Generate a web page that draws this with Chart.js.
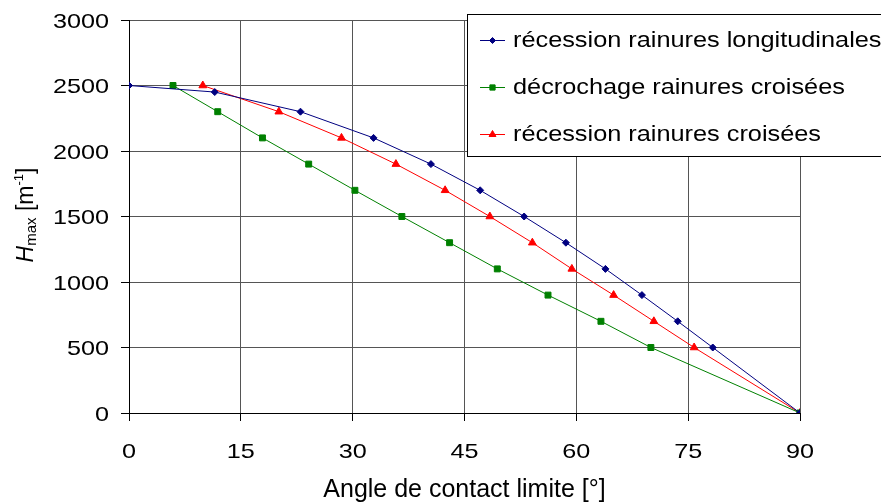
<!DOCTYPE html>
<html lang="fr">
<head>
<meta charset="UTF-8">
<title>Hmax vs angle de contact limite</title>
<script src="https://cdn.jsdelivr.net/npm/chart.js@4"></script>
<style>
    body { margin: 0; background: #fff; }
    #wrap { width: 881px; height: 504px; }
</style>
</head>
<body>
<div id="wrap"><canvas id="chart" width="881" height="504"></canvas></div>
<script>
    // values
    const seriesNames = [
        'récession rainures longitudinales',
        'décrochage rainures croisées',
        'récession rainures croisées'
    ];
    const angleLongi = [0, 11.5, 23, 32.8, 40.5, 47.1, 53, 58.6, 63.9, 68.8, 73.6, 78.3, 90];
    const hLongi = [2500, 2450, 2300, 2100, 1900, 1700, 1500, 1300, 1100, 900, 700, 500, 0];
    const angleDecro = [5.9, 11.9, 17.9, 24.1, 30.3, 36.6, 43, 49.4, 56.2, 63.3, 70, 90];
    const hDecro = [2500, 2300, 2100, 1900, 1700, 1500, 1300, 1100, 900, 700, 500, 0];
    const angleRecCr = [9.9, 20.1, 28.5, 35.8, 42.4, 48.4, 54.1, 59.4, 65, 70.4, 75.8, 90];
    const hRecCr = [2500, 2300, 2100, 1900, 1700, 1500, 1300, 1100, 900, 700, 500, 0];

    const xTicks = [0, 15, 30, 45, 60, 75, 90];
    const yTicks = [0, 500, 1000, 1500, 2000, 2500, 3000];

    const FONT = '"Liberation Sans", Arial, sans-serif';

    function toPoints(xs, ys) {
        return xs.map((x, i) => ({ x: x, y: ys[i] }));
    }

    const styles = [
        { color: '#000080', pointStyle: 'rectRot', radius: 3.5 },
        { color: '#008000', pointStyle: 'rect', radius: 4.2 },
        { color: '#ff0000', pointStyle: 'triangle', radius: 4.5 }
    ];
    const allData = [
        toPoints(angleLongi, hLongi),
        toPoints(angleDecro, hDecro),
        toPoints(angleRecCr, hRecCr)
    ];

    const datasets = allData.map((d, i) => ({
        label: seriesNames[i],
        data: d,
        showLine: true,
        borderColor: styles[i].color,
        backgroundColor: styles[i].color,
        borderWidth: 1,
        pointStyle: styles[i].pointStyle,
        pointRadius: styles[i].radius,
        pointBorderWidth: 1,
        pointBackgroundColor: styles[i].color,
        pointBorderColor: styles[i].color,
        tension: 0
    }));

    // text that looks a bit wider than plain Arial, as in the picture
    function wideText(ctx, text, x, y, align, sx) {
        ctx.save();
        ctx.translate(x, y);
        ctx.scale(sx, 1);
        ctx.textAlign = align;
        ctx.fillText(text, 0, 0);
        ctx.restore();
    }

    const decorations = {
        id: 'decorations',
        afterDraw(chart) {
            const ctx = chart.ctx;
            const xs = chart.scales.x, ys = chart.scales.y;
            ctx.save();
            ctx.fillStyle = '#000';
            ctx.textBaseline = 'alphabetic';
            ctx.font = '21px ' + FONT;
            // tick labels
            yTicks.forEach(v => {
                wideText(ctx, String(v), 109, ys.getPixelForValue(v) + 7.5, 'right', 1.2);
            });
            xTicks.forEach(v => {
                wideText(ctx, String(v), xs.getPixelForValue(v), 458, 'center', 1.2);
            });

            // y title: H_max [m^-1]
            ctx.save();
            ctx.translate(33, 215);
            ctx.rotate(-Math.PI / 2);
            const parts = [
                { t: 'H', f: 'italic 23px ' + FONT, dy: 0 },
                { t: 'max', f: '15px ' + FONT, dy: 3 },
                { t: ' [m', f: '23px ' + FONT, dy: 0 },
                { t: '-1', f: '13px ' + FONT, dy: -10 },
                { t: ']', f: '23px ' + FONT, dy: 0 }
            ];
            let total = 0;
            parts.forEach(p => { ctx.font = p.f; p.w = ctx.measureText(p.t).width; total += p.w; });
            let px = -total / 2;
            ctx.textAlign = 'left';
            parts.forEach(p => { ctx.font = p.f; ctx.fillText(p.t, px, p.dy); px += p.w; });
            ctx.restore();

            // legend box (runs off the right edge like the picture)
            ctx.fillStyle = '#fff';
            ctx.fillRect(467.5, 14.5, 430, 142);
            ctx.strokeStyle = '#000';
            ctx.lineWidth = 1;
            ctx.strokeRect(467.5, 14.5, 430, 142);
            const rows = [40, 87, 134];
            seriesNames.forEach((name, i) => {
                const y = rows[i];
                ctx.strokeStyle = styles[i].color;
                ctx.fillStyle = styles[i].color;
                ctx.beginPath();
                ctx.moveTo(480, y + 0.5);
                ctx.lineTo(505, y + 0.5);
                ctx.stroke();
                Chart.helpers.drawPoint(ctx, {
                    pointStyle: styles[i].pointStyle,
                    radius: styles[i].radius - 0.5,
                    rotation: 0,
                    borderWidth: 1
                }, 492.5, y + 0.5);
                ctx.fillStyle = '#000';
                ctx.font = '22px ' + FONT;
                wideText(ctx, name, 513, y + 7, 'left', 1.15);
            });
            ctx.restore();
        }
    };

    new Chart(document.getElementById('chart'), {
        type: 'scatter',
        data: { datasets: datasets },
        options: {
            responsive: false,
            animation: false,
            devicePixelRatio: 1,
            layout: { padding: { top: 20, right: 81, bottom: 0, left: 0 } },
            plugins: {
                legend: { display: false },
                tooltip: { enabled: false }
            },
            scales: {
                x: {
                    type: 'linear',
                    min: 0,
                    max: 90,
                    ticks: { stepSize: 15, display: false },
                    grid: { color: '#555', tickColor: '#000', tickLength: 8 },
                    border: { color: '#000', width: 1 },
                    title: {
                        display: true,
                        text: 'Angle de contact limite [°]',
                        color: '#000',
                        font: { family: FONT, size: 25, lineHeight: 1.1 },
                        padding: { top: 0, bottom: 0 }
                    },
                    afterFit(scale) { scale.height = 91; }
                },
                y: {
                    min: 0,
                    max: 3000,
                    ticks: { stepSize: 500, display: false },
                    grid: { color: '#555', tickColor: '#000', tickLength: 8 },
                    border: { color: '#000', width: 1 },
                    afterFit(scale) { scale.width = 129; }
                }
            }
        },
        plugins: [decorations]
    });
</script>
</body>
</html>
